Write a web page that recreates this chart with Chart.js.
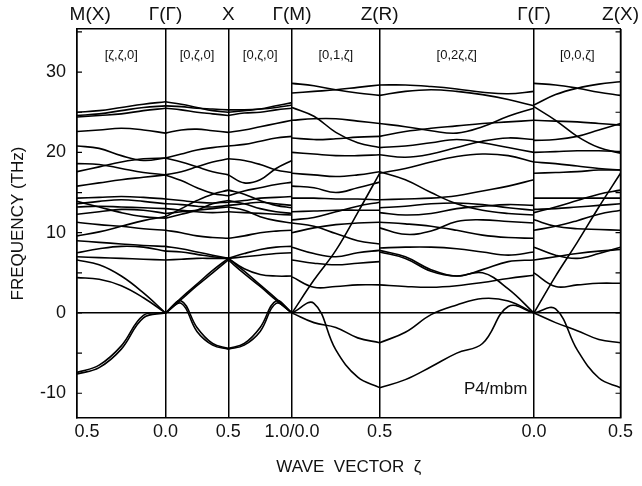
<!DOCTYPE html>
<html>
<head>
<meta charset="utf-8">
<script src="https://cdn.jsdelivr.net/npm/chart.js@4/dist/chart.umd.min.js"></script>
<style>body{margin:0;background:#fff}</style>
</head>
<body>
<canvas id="chart" width="642" height="486"></canvas>
<script>
// symmetry points along the path
const topLabels = ["M(X)", "Γ(Γ)", "X", "Γ(M)", "Z(R)", "Γ(Γ)", "Z(X)"];
const bottomLabels = ["0.5", "0.0", "0.5", "1.0/0.0", "0.5", "0.0", "0.5"];
const symPos = [0, 89, 152, 216, 304, 459, 546];
const segNames = ["[ζ,ζ,0]", "[0,ζ,0]", "[0,ζ,0]", "[0,1,ζ]", "[0,2ζ,ζ]", "[0,0,ζ]"];
const yTicks = [-10, 0, 10, 20, 30];

// frequencies (THz), evenly sampled along each segment
const seg1Bands = [
  [25.0, 25.2, 25.6, 26.0, 26.3],
  [24.6, 24.8, 25.2, 25.6, 25.8],
  [24.4, 24.6, 24.8, 25.2, 25.5],
  [22.6, 22.8, 23.0, 22.8, 22.4],
  [20.8, 20.5, 19.6, 19.0, 19.3],
  [17.6, 18.2, 18.8, 19.2, 19.3],
  [18.6, 18.5, 18.0, 17.5, 17.2],
  [15.8, 16.2, 16.6, 16.9, 17.2],
  [14.3, 14.4, 14.5, 14.4, 14.2],
  [13.6, 13.9, 14.1, 13.9, 13.6],
  [13.2, 13.3, 13.2, 13.1, 13.0],
  [12.3, 12.6, 12.9, 12.8, 12.4],
  [13.9, 13.2, 12.5, 12.0, 11.8],
  [11.3, 11.0, 10.8, 10.5, 10.3],
  [9.6, 10.1, 10.8, 11.5, 12.0],
  [9.0, 8.8, 8.6, 8.4, 8.3],
  [7.5, 8.0, 8.3, 8.2, 7.7],
  [7.0, 6.9, 6.8, 6.7, 6.6],
  [6.6, 6.0, 4.6, 2.5, 0.0],
  [4.4, 4.2, 3.4, 1.9, 0.0],
  [-7.6, -6.8, -4.5, -0.6, 0.0],
  [-7.4, -6.5, -4.1, -0.3, 0.0]
];
const seg2Bands = [
  [26.3, 26.0, 25.6, 25.2, 25.0],
  [25.8, 25.7, 25.5, 25.4, 25.3],
  [25.5, 25.3, 25.0, 24.8, 24.6],
  [22.4, 22.8, 22.9, 22.7, 22.5],
  [19.3, 19.8, 20.3, 20.6, 20.8],
  [19.3, 18.8, 18.2, 17.6, 17.2],
  [17.2, 17.6, 18.2, 18.8, 19.2],
  [17.2, 16.5, 15.6, 14.9, 14.6],
  [14.2, 14.0, 13.8, 13.7, 13.8],
  [13.6, 13.5, 13.3, 13.2, 13.4],
  [13.0, 12.8, 12.6, 12.5, 12.6],
  [12.4, 12.6, 12.8, 13.0, 13.2],
  [11.8, 12.3, 12.8, 13.6, 14.0],
  [10.3, 10.0, 9.6, 9.4, 9.3],
  [12.0, 13.0, 14.0, 14.8, 15.3],
  [8.3, 8.0, 7.6, 7.2, 6.8],
  [7.7, 7.6, 7.3, 7.0, 6.8],
  [6.6, 6.7, 6.8, 6.8, 6.8],
  [0.0, 1.9, 3.6, 5.3, 6.8],
  [0.0, 1.7, 3.4, 5.0, 6.6],
  [0.0, 1.5, -1.8, -3.8, -4.4],
  [0.0, 1.2, -2.3, -4.0, -4.5]
];
const seg3Bands = [
  [25.0, 25.2, 25.4, 25.8, 26.2],
  [25.3, 25.3, 25.4, 25.6, 25.9],
  [24.6, 24.9, 25.0, 25.3, 25.5],
  [22.5, 22.8, 23.2, 23.6, 24.0],
  [20.8, 21.0, 21.4, 21.8, 22.0],
  [17.2, 16.2, 16.6, 18.0, 19.0],
  [19.2, 19.0, 18.5, 17.8, 17.5],
  [14.6, 15.2, 15.6, 16.0, 16.3],
  [13.8, 14.0, 14.3, 14.4, 14.5],
  [13.4, 13.6, 13.8, 13.6, 13.4],
  [12.6, 12.5, 12.4, 12.3, 12.2],
  [13.2, 12.8, 12.0, 11.5, 11.2],
  [14.0, 13.6, 13.0, 12.6, 12.4],
  [9.3, 9.6, 10.0, 10.2, 10.3],
  [15.3, 14.8, 14.0, 13.4, 13.1],
  [6.8, 7.4, 7.9, 8.2, 8.3],
  [6.8, 7.0, 7.2, 7.4, 7.5],
  [6.8, 5.5, 4.8, 4.6, 4.6],
  [6.8, 5.2, 3.5, 1.8, 0.0],
  [6.6, 4.9, 3.3, 1.6, 0.0],
  [-4.4, -3.8, -1.8, 1.5, 0.0],
  [-4.5, -4.0, -2.3, 1.2, 0.0]
];
const seg4Bands = [
  [28.6, 28.3, 27.8, 27.4, 27.1],
  [27.4, 27.6, 27.8, 28.1, 28.4],
  [25.6, 24.5, 22.5, 21.2, 20.6],
  [24.0, 24.2, 24.2, 23.9, 23.6],
  [21.8, 21.6, 21.7, 21.9, 22.0],
  [20.0, 19.8, 19.6, 19.6, 19.7],
  [17.4, 17.2, 17.0, 17.2, 17.6],
  [15.8, 15.6, 15.0, 15.6, 16.3],
  [14.3, 14.3, 14.2, 14.2, 14.1],
  [12.6, 12.7, 12.8, 12.8, 12.8],
  [11.6, 11.9, 12.6, 13.3, 13.8],
  [10.0, 10.6, 11.0, 11.2, 11.3],
  [11.2, 10.8, 9.9, 9.0, 8.6],
  [8.2, 7.4, 7.0, 7.5, 7.8],
  [6.6, 6.2, 6.0, 6.2, 6.4],
  [4.5, 3.2, 3.3, 3.5, 3.5],
  [0.0, 4.1, 7.8, 12.5, 17.4],
  [0.0, -1.2, -1.8, -3.1, -3.7],
  [0.0, 1.2, -4.6, -8.0, -9.3]
];
const seg5Bands = [
  [28.4, 28.4, 28.2, 27.9, 27.5, 27.3, 27.6],
  [27.1, 27.6, 27.8, 27.6, 27.2, 26.6, 25.8],
  [23.6, 23.2, 22.7, 22.4, 23.2, 24.5, 25.5],
  [22.0, 22.6, 23.0, 23.3, 23.6, 23.8, 24.0],
  [20.6, 20.8, 21.2, 21.6, 21.2, 20.6, 20.0],
  [19.7, 19.4, 19.8, 20.6, 21.4, 21.8, 21.6],
  [17.4, 18.0, 18.8, 19.5, 19.8, 19.6, 18.8],
  [17.6, 16.6, 15.0, 13.6, 12.8, 12.4, 12.2],
  [14.1, 14.2, 14.3, 14.6, 15.2, 15.8, 16.6],
  [13.1, 13.3, 13.6, 13.7, 13.5, 13.1, 12.8],
  [12.5, 12.2, 12.4, 13.0, 13.3, 13.5, 13.4],
  [10.6, 9.8, 10.2, 11.4, 11.6, 11.4, 11.2],
  [11.3, 11.1, 10.8, 10.3, 9.7, 9.4, 9.3],
  [8.1, 8.2, 8.2, 8.0, 7.6, 7.2, 7.6],
  [7.8, 7.0, 5.4, 4.6, 5.4, 6.4, 6.6],
  [7.6, 6.8, 5.2, 4.6, 5.0, 3.0, 0.0],
  [3.5, 3.3, 3.2, 3.4, 3.8, 4.3, 4.7],
  [-3.7, -2.4, -0.2, 1.0, 1.8, 1.5, 0.0],
  [-9.3, -8.3, -6.7, -5.0, -3.8, 0.8, 0.0]
];
const seg6Bands = [
  [25.9, 27.2, 28.0, 28.5, 28.8],
  [28.6, 28.4, 28.0, 27.5, 27.1],
  [25.7, 24.0, 22.0, 20.6, 19.9],
  [24.0, 23.9, 23.8, 23.6, 23.4],
  [21.5, 21.6, 22.0, 22.8, 23.6],
  [20.0, 20.1, 20.2, 20.2, 20.1],
  [18.8, 18.6, 18.3, 18.0, 17.8],
  [17.4, 17.5, 17.6, 17.8, 17.8],
  [14.3, 14.3, 14.3, 14.3, 14.3],
  [12.9, 13.0, 13.2, 13.4, 13.6],
  [12.5, 13.2, 14.0, 14.8, 15.3],
  [11.6, 10.8, 10.5, 10.4, 10.3],
  [10.3, 10.8, 11.5, 12.3, 12.8],
  [8.2, 7.2, 6.8, 7.4, 8.2],
  [6.6, 7.0, 7.4, 7.7, 7.9],
  [5.0, 3.3, 3.5, 3.7, 3.7],
  [0.0, 4.6, 8.8, 13.2, 17.4],
  [0.0, -1.2, -2.2, -3.3, -3.7],
  [0.0, 0.5, -4.6, -8.1, -9.3]
];

const allSegs = [seg1Bands, seg2Bands, seg3Bands, seg4Bands, seg5Bands, seg6Bands];

const datasets = [];
allSegs.forEach((bands, s) => {
  const x0 = symPos[s], x1 = symPos[s + 1];
  bands.forEach(b => {
    datasets.push({
      data: b.map((v, i) => ({ x: x0 + (x1 - x0) * i / (b.length - 1), y: v })),
      borderColor: "#000",
      borderWidth: 1.6,
      pointRadius: 0,
      tension: 0.4,
      fill: false
    });
  });
});

const font = "'Liberation Sans', Arial, sans-serif";

// first labels sit a bit right of the left frame in the original
const shiftFirst = (labels, pad) => (v, i) => (i === 0 ? pad : "") + labels[i];

const extras = {
  id: "extras",
  afterDraw(chart) {
    const { ctx, chartArea: a, scales } = chart;
    const y = scales.y, x = scales.x;
    ctx.save();
    ctx.strokeStyle = "#000";
    ctx.lineWidth = 1.5;
    ctx.beginPath();
    ctx.moveTo(a.right, a.top);
    ctx.lineTo(a.right, a.bottom);
    ctx.stroke();
    // inward ticks every 5 THz
    ctx.lineWidth = 1.2;
    for (let v = -10; v <= 35; v += 5) {
      const py = y.getPixelForValue(v);
      ctx.beginPath();
      ctx.moveTo(a.left, py); ctx.lineTo(a.left + 5, py);
      ctx.moveTo(a.right, py); ctx.lineTo(a.right - 5, py);
      ctx.stroke();
    }
    ctx.fillStyle = "#111";
    ctx.textAlign = "center";
    ctx.textBaseline = "middle";
    ctx.font = "13px " + font;
    segNames.forEach((n, i) => {
      const cx = (x.getPixelForValue(symPos[i]) + x.getPixelForValue(symPos[i + 1])) / 2;
      ctx.fillText(n, cx, a.top + 26);
    });
    ctx.font = "17px " + font;
    ctx.textAlign = "left";
    ctx.fillText("P4/mbm", 464, 389);
    ctx.restore();
  }
};

new Chart(document.getElementById("chart"), {
  type: "line",
  data: { datasets },
  options: {
    responsive: false,
    animation: false,
    devicePixelRatio: 1,
    layout: { padding: { right: 19, left: 0, top: 0, bottom: 0 } },
    plugins: { legend: { display: false }, tooltip: { enabled: false } },
    scales: {
      x: {
        type: "linear", position: "bottom", min: 0, max: 546,
        afterBuildTicks: s => { s.ticks = symPos.map(v => ({ value: v })); },
        afterFit: s => { s.height = 68; },
        ticks: { callback: shiftFirst(bottomLabels, "    "), autoSkip: false, maxRotation: 0,
                 font: { family: font, size: 18 }, color: "#111", padding: 3 },
        grid: { color: "#000", lineWidth: 1.5, drawTicks: false },
        border: { color: "#000", width: 1.5 },
        title: { display: true, text: "WAVE  VECTOR  ζ", color: "#111",
                 font: { family: font, size: 17 }, padding: { top: 0, bottom: 8 } }
      },
      x2: {
        type: "linear", position: "top", min: 0, max: 546,
        afterBuildTicks: s => { s.ticks = symPos.map(v => ({ value: v })); },
        afterFit: s => { s.height = 29; },
        ticks: { callback: shiftFirst(topLabels, "     "), autoSkip: false, maxRotation: 0,
                 font: { family: font, size: 19 }, color: "#111", padding: 3 },
        grid: { display: false, drawTicks: false },
        border: { color: "#000", width: 1.5 }
      },
      y: {
        type: "linear", min: -13.08, max: 35.37,
        afterBuildTicks: s => { s.ticks = yTicks.map(v => ({ value: v })); },
        afterFit: s => { s.width = 77; },
        ticks: { font: { family: font, size: 18 }, color: "#111", padding: 11 },
        grid: { color: c => (c.tick && c.tick.value === 0) ? "#000" : "rgba(0,0,0,0)",
                lineWidth: 1.5, drawTicks: false },
        border: { color: "#000", width: 1.5 },
        title: { display: true, text: "FREQUENCY (THz)", color: "#111",
                 font: { family: font, size: 17 }, padding: { top: 8, bottom: 0 } }
      }
    }
  },
  plugins: [extras]
});
</script>
</body>
</html>
